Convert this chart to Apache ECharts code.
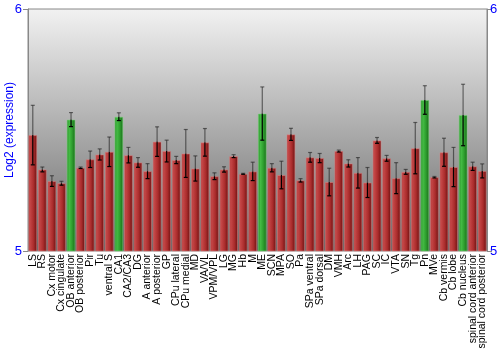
<!DOCTYPE html>
<html>
<head>
<meta charset="utf-8">
<script src="https://cdn.jsdelivr.net/npm/echarts@6/dist/echarts.min.js"></script>
<style>html,body{margin:0;padding:0;background:#fff;}#c{width:500px;height:350px;}</style>
</head>
<body>
<div id="c"></div>
<script>
var categories = ['LS','RS','Cx motor','Cx cingulate','OB anterior','OB posterior','Pir','Tu','ventral S','CA1','CA2/CA3','DG','A anterior','A posterior','GP','CPu lateral','CPu medial','MD','VA/VL','VPM/VPL','LG','MG','Hb','M','ME','SCN','MPA','SO','Pa','SPa ventral','SPa dorsal','DM','VMH','Arc','LH','PAG','SC','IC','VTA','SN','Tg','Pn','MVe','Cb vermis','Cb lobe','Cb nucleus','spinal cord anterior','spinal cord posterior'];
var values = [5.479,5.337,5.289,5.280,5.543,5.344,5.379,5.399,5.410,5.555,5.396,5.366,5.330,5.452,5.413,5.376,5.403,5.341,5.449,5.309,5.337,5.392,5.319,5.329,5.568,5.344,5.314,5.482,5.292,5.387,5.384,5.285,5.413,5.362,5.323,5.283,5.457,5.383,5.301,5.327,5.425,5.624,5.305,5.408,5.347,5.562,5.350,5.331];
var errors = [0.123,0.010,0.022,0.008,0.029,0.003,0.034,0.023,0.061,0.016,0.032,0.020,0.031,0.061,0.045,0.015,0.099,0.052,0.057,0.014,0.011,0.006,0.002,0.038,0.110,0.017,0.057,0.025,0.007,0.020,0.019,0.057,0.004,0.015,0.063,0.062,0.012,0.012,0.064,0.010,0.106,0.059,0.003,0.058,0.081,0.127,0.017,0.029];
var highlighted = ['OB anterior','CA1','ME','Pn','Cb nucleus'];
var yTicks = [5, 6];

var redGrad = new echarts.graphic.LinearGradient(0,0,1,0,[
  {offset:0,color:'#a42e2e'},{offset:0.2,color:'#c44646'},{offset:0.6,color:'#aa2c2c'},{offset:1,color:'#681010'}]);
var greenGrad = new echarts.graphic.LinearGradient(0,0,1,0,[
  {offset:0,color:'#2a8a2a'},{offset:0.3,color:'#44bb44'},{offset:0.6,color:'#2fa02f'},{offset:1,color:'#1a6a1a'}]);

var barData = values.map(function(v,i){
  var g = highlighted.indexOf(categories[i]) >= 0;
  return {value:v, itemStyle:{color: g ? greenGrad : redGrad, borderColor: g ? 'rgba(120,220,120,0.5)' : 'rgba(230,130,130,0.5)', borderWidth:1}};
});
var errData = values.map(function(v,i){ return [i, v, errors[i]]; });

var chart = echarts.init(document.getElementById('c'));
chart.setOption({
  animation:false,
  grid:{left:28,right:13,top:9,bottom:99,containLabel:false,outerBoundsMode:'none',show:true,borderColor:'#888',borderWidth:1,
    backgroundColor:new echarts.graphic.LinearGradient(0,0,0,1,[{offset:0,color:'#f2f2f2'},{offset:1,color:'#666666'}])},
  xAxis:{type:'category',data:categories,
    axisLine:{show:false},axisTick:{show:false},
    axisLabel:{interval:0,rotate:90,fontSize:10.5,color:'#000',margin:3,fontFamily:'Liberation Sans'}},
  yAxis:[
    {type:'value',min:yTicks[0],max:yTicks[1],interval:1,
     name:'Log2 (expression)',nameLocation:'middle',nameGap:12,nameMoveOverlap:false,
     nameTextStyle:{color:'#0000ff',fontSize:12,fontFamily:'Liberation Sans'},
     axisLine:{show:true,lineStyle:{color:'#888'}},axisTick:{show:true,length:5,lineStyle:{color:'#888'}},
     splitLine:{show:false},
     axisLabel:{color:'#0000ff',fontSize:13,margin:6,fontFamily:'Liberation Sans'}},
    {type:'value',min:yTicks[0],max:yTicks[1],interval:1,position:'right',
     axisLine:{show:true,lineStyle:{color:'#888'}},axisTick:{show:true,length:5,lineStyle:{color:'#888'}},
     splitLine:{show:false},
     axisLabel:{color:'#0000ff',fontSize:13,margin:3,fontFamily:'Liberation Sans'}}
  ],
  series:[
    {type:'bar',data:barData,barCategoryGap:'8%'},
    {type:'custom',data:errData,z:10,
     renderItem:function(params,api){
       var i=api.value(0), v=api.value(1), e=api.value(2);
       var top=api.coord([i,v+e]), mid=api.coord([i,v]), bot=api.coord([i,v-e]);
       var x=top[0], hw=2;
       var up='rgba(30,30,30,0.6)', dn='#000';
       return {type:'group',children:[
         {type:'line',shape:{x1:x,y1:top[1],x2:x,y2:mid[1]},style:{stroke:up,lineWidth:1.2}},
         {type:'line',shape:{x1:x-hw,y1:top[1],x2:x+hw,y2:top[1]},style:{stroke:up,lineWidth:1.2}},
         {type:'line',shape:{x1:x,y1:mid[1],x2:x,y2:bot[1]},style:{stroke:dn,lineWidth:1.2}},
         {type:'line',shape:{x1:x-hw,y1:bot[1],x2:x+hw,y2:bot[1]},style:{stroke:dn,lineWidth:1.2}}
       ]};
     }}
  ]
});
</script>
</body>
</html>
